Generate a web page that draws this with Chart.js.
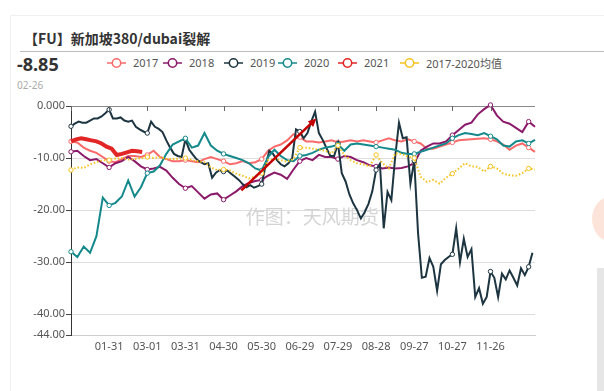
<!DOCTYPE html>
<html>
<head>
<meta charset="utf-8">
<script src="https://cdn.jsdelivr.net/npm/chart.js@4"></script>
<style>
  html, body { margin: 0; padding: 0; background: #fff; }
  body { width: 604px; height: 391px; position: relative; overflow: hidden;
         font-family: "Noto Sans", "Noto Sans CJK SC", sans-serif; }
  #card { position: absolute; left: 10px; top: 15px; right: 0; bottom: 0;
          border-left: 1px solid #f0f0f0; border-top: 1px solid #f0f0f0; }
  #title { position: absolute; left: 24px; top: 28px; font-size: 14px; font-weight: bold; color: #333;
           font-family: "Noto Sans CJK SC", sans-serif; }
  #rule { position: absolute; left: 20px; right: 0; top: 51px; height: 1px; background: #bdbdbd; }
  #last { position: absolute; left: 17px; top: 52px; font-size: 18px; font-weight: bold; color: #333; }
  #lastDate { position: absolute; left: 17px; top: 78px; font-size: 10px; color: #aaa; }
  #legend { position: absolute; left: 0; top: 55px; font-size: 11px; color: #555;
            font-family: "Noto Sans", "Noto Sans CJK SC", sans-serif; }
  #legend .item { position: absolute; top: 0; display: flex; align-items: center; white-space: nowrap; }
  #legend svg { margin-right: 7px; }
  #chart { position: absolute; left: 0; top: 0; }
  #sideBlob { position: absolute; left: 592px; top: 196px; width: 40px; height: 46px; border-radius: 50%; background: #fde4da; }
  #sideGray { position: absolute; left: 597px; top: 268px; width: 7px; height: 123px; background: #e6e6e6; }
</style>
</head>
<body>
<div id="card"></div>
<div id="sideBlob"></div>
<div id="sideGray"></div>
<div id="title">【FU】新加坡380/dubai裂解</div>
<div id="rule"></div>
<div id="last">-8.85</div>
<div id="lastDate">02-26</div>
<div id="legend"></div>
<canvas id="chart" width="604" height="391"></canvas>
<script>
// x axis: day index in a leap-year calendar (0 = 01-01)
const tickDays = [30, 60, 90, 120, 150, 180, 210, 240, 270, 300, 330];
const tickLabels = ['01-31', '03-01', '03-31', '04-30', '05-30', '06-29', '07-29', '08-28', '09-27', '10-27', '11-26'];
const yTicks = [0, -10, -20, -30, -40, -44];

const seriesNames = ['2017', '2018', '2019', '2020', '2021', '2017-2020均值'];
const seriesColors = ['#f96b6b', '#8c1a6a', '#1d3541', '#14898b', '#e22626', '#f5c21e'];

// one value every 5 days
const v2017 = [-6.8, -7.0, -8.0, -8.6, -9.0, -9.8, -10.6, -10.8, -10.2, -9.6,
  -9.6, -9.8, -9.4, -8.6, -9.8, -10.2, -10.6, -10.6, -10.4, -10.6,
  -10.8, -10.2, -9.8, -10.2, -10.6, -11.2, -11.0, -10.6, -11.0, -10.8,
  -10.2, -8.6, -7.8, -7.4, -6.6, -5.4, -6.0, -6.8, -6.8, -7.0,
  -6.8, -6.6, -7.0, -6.8, -6.6, -6.8, -6.6, -6.8, -7.0, -6.6,
  -6.2, -6.6, -6.8, -6.4, -6.8, -7.2, -8.2, -8.2, -7.8, -7.4,
  -7.0, -6.6, -6.5, -6.4, -6.3, -6.2, -6.4, -6.8, -7.4, -8.4,
  -7.6, -7.2, -8.0, -8.8];
const v2018 = [-8.8, -8.6, -9.6, -10.4, -10.2, -11.0, -11.8, -11.0, -10.6, -9.8,
  -10.6, -11.6, -12.2, -12.0, -11.7, -12.4, -13.8, -15.0, -15.8, -15.4,
  -16.6, -17.8, -17.0, -16.8, -18.0, -17.2, -16.4, -15.4, -14.8, -14.4,
  -14.2, -13.4, -12.8, -13.2, -14.0, -12.2, -10.6, -10.0, -10.4, -9.4,
  -9.8, -9.8, -10.2, -9.6, -9.8, -10.4, -10.8, -11.4, -11.6, -12.0,
  -11.8, -12.0, -11.9, -11.6, -11.0, -8.6, -7.8, -7.2, -7.2, -6.8,
  -5.6, -4.6, -3.6, -3.2, -1.6, -0.6, 0.2, -1.8, -3.0, -3.4,
  -4.2, -5.0, -3.0, -4.0];
const v2020 = [-28.0, -29.0, -27.0, -28.2, -25.0, -17.6, -19.1, -18.6, -17.4, -14.3,
  -17.4, -15.6, -12.9, -12.6, -11.4, -9.2, -7.4, -6.8, -6.2, -8.0,
  -7.6, -5.2, -7.6, -8.6, -9.2, -9.6, -10.0, -10.4, -11.0, -12.0,
  -12.4, -9.8, -8.4, -9.6, -10.4, -10.6, -9.6, -9.4, -9.0, -8.4,
  -8.0, -7.8, -7.4, -8.6, -7.4, -7.2, -7.4, -7.6, -7.8, -8.0,
  -8.2, -8.4, -9.0, -9.2, -9.2, -8.8, -8.4, -8.0, -7.6, -7.2,
  -6.2, -5.6, -5.2, -5.4, -5.6, -5.2, -5.8, -6.4, -7.6, -7.8,
  -6.8, -6.6, -7.2, -6.5];
const vAvg = [-12.3, -11.8, -11.9, -11.2, -10.8, -10.4, -10.4, -10.1, -10.0, -10.3,
  -10.2, -10.0, -9.8, -10.0, -9.8, -10.2, -10.2, -10.1, -10.0, -10.4,
  -10.6, -10.8, -11.8, -12.3, -12.2, -12.4, -13.0, -13.4, -13.9, -13.6,
  -12.9, -10.4, -10.2, -10.4, -10.7, -10.2, -8.0, -8.0, -8.2, -8.4,
  -8.6, -9.1, -7.6, -9.4, -10.4, -11.0, -11.2, -11.6, -9.4, -11.0,
  -12.0, -9.1, -9.2, -9.7, -10.0, -13.6, -14.6, -14.2, -14.9, -13.8,
  -13.0, -12.0, -11.0, -11.6, -11.7, -12.6, -11.6, -12.0, -13.0, -13.3,
  -13.4, -12.9, -12.0, -12.2];
// one value every 3 days
const v2019 = [-3.9, -3.4, -3.0, -3.2, -3.2, -2.8, -2.4, -2.4, -2.0, -1.4,
  -0.7, -2.4, -2.4, -2.2, -2.8, -3.0, -2.8, -4.0, -4.5, -4.9,
  -5.2, -3.0, -4.0, -4.4, -5.0, -6.6, -8.0, -9.2, -9.6, -9.8,
  -6.4, -8.4, -9.4, -10.3, -10.8, -11.2, -11.0, -13.8, -12.8, -12.3,
  -12.6, -12.4, -13.0, -13.6, -14.2, -15.0, -15.6, -15.2, -15.7, -15.4,
  -15.0, -11.5, -8.6, -9.2, -10.4, -11.2, -11.6, -11.0, -10.0, -4.5,
  -4.9, -6.2, -5.2, -3.0, -1.1, -5.2, -6.5, -8.1, -9.6, -9.6,
  -7.2, -12.9, -14.5, -17.0, -18.7, -20.0, -21.6, -20.4, -18.8, -16.4,
  -12.3, -11.1, -23.5, -16.5, -18.1, -9.8, -3.2, -6.2, -6.0, -14.9,
  -10.5, -24.4, -33.0, -32.8, -29.2, -30.9, -35.5, -30.4, -29.6, -29.0,
  -28.5, -23.5, -30.0, -25.5, -29.0, -27.5, -36.7, -35.0, -38.0, -36.7,
  -31.8, -33.0, -36.7, -32.2, -33.3, -31.6, -33.0, -34.5, -31.2, -32.5,
  -30.9, -28.2];
// one value every 4 days, up to 02-26
const v2021 = [-6.8, -6.4, -6.2, -6.4, -6.6, -6.8, -7.2, -7.8, -8.2, -9.4, -9.2, -8.9, -8.6, -8.7, -8.85];

const seriesValues = [v2017, v2018, v2019, v2020, v2021, vAvg];
const seriesSteps = [5, 5, 3, 5, 4, 5];

// red arrow drawn on the picture, in [day, value]
const arrowFrom = [134, -16.2];
const arrowTo = [193, -2.4];
const watermark = '作图：天风期货';

// legend, html
const legendLeft = [107, 163, 224, 278, 338, 400];
const legendEl = document.getElementById('legend');
seriesNames.forEach((name, i) => {
  const c = seriesColors[i];
  const item = document.createElement('div');
  item.className = 'item';
  item.style.left = legendLeft[i] + 'px';
  item.innerHTML = '<svg width="19" height="12"><line x1="0" y1="6" x2="19" y2="6" stroke="' + c +
    '" stroke-width="1.5"/><circle cx="9.5" cy="6" r="4.2" fill="#fff" stroke="' + c +
    '" stroke-width="1.5"/></svg><span>' + name + '</span>';
  legendEl.appendChild(item);
});

const toPoints = (vals, step) => vals.map((v, i) => ({ x: i * step, y: v }));

const datasets = seriesNames.map((name, i) => ({
  label: name,
  data: toPoints(seriesValues[i], seriesSteps[i]),
  borderColor: seriesColors[i],
  borderWidth: i === 4 ? 4 : 2,
  borderDash: i === 5 ? [1.5, 2] : [],
  pointRadius: ctx => (ctx.raw && ctx.raw.x % 30 === 0 && i !== 4 ? 2.2 : 0),
  pointBackgroundColor: '#fff',
  pointBorderColor: seriesColors[i],
  pointBorderWidth: 1,
  tension: 0,
  fill: false,
  clip: false,
  order: seriesNames.length - i
}));

const decor = {
  id: 'decor',
  beforeDatasetsDraw(chart) {
    const { ctx, chartArea } = chart;
    ctx.save();
    ctx.font = '19px "Noto Sans CJK SC", sans-serif';
    ctx.fillStyle = '#d4d4d4';
    ctx.textAlign = 'center';
    ctx.textBaseline = 'middle';
    ctx.fillText(watermark, chartArea.left + chartArea.width * 0.52, chartArea.top + chartArea.height * 0.485);
    ctx.restore();
  },
  afterDatasetsDraw(chart) {
    const { ctx, scales: { x, y } } = chart;
    const x0 = x.getPixelForValue(arrowFrom[0]), y0 = y.getPixelForValue(arrowFrom[1]);
    const x1 = x.getPixelForValue(arrowTo[0]), y1 = y.getPixelForValue(arrowTo[1]);
    const a = Math.atan2(y1 - y0, x1 - x0);
    const head = 9;
    ctx.save();
    ctx.strokeStyle = '#c40000';
    ctx.fillStyle = '#c40000';
    ctx.lineWidth = 2.5;
    ctx.beginPath();
    ctx.moveTo(x0, y0);
    ctx.lineTo(x1 - Math.cos(a) * head * 0.8, y1 - Math.sin(a) * head * 0.8);
    ctx.stroke();
    ctx.beginPath();
    ctx.moveTo(x1, y1);
    ctx.lineTo(x1 - head * Math.cos(a - 0.45), y1 - head * Math.sin(a - 0.45));
    ctx.lineTo(x1 - head * Math.cos(a + 0.45), y1 - head * Math.sin(a + 0.45));
    ctx.closePath();
    ctx.fill();
    ctx.restore();
  },
  afterDraw(chart) {
    // small tick marks hanging from the top axis line
    const { ctx, chartArea, scales: { x } } = chart;
    ctx.save();
    ctx.strokeStyle = '#666';
    ctx.lineWidth = 1;
    [0].concat(tickDays).forEach(d => {
      const px = Math.round(x.getPixelForValue(d)) + 0.5;
      ctx.beginPath();
      ctx.moveTo(px, chartArea.top);
      ctx.lineTo(px, chartArea.top + 5);
      ctx.stroke();
    });
    ctx.restore();
  }
};

new Chart(document.getElementById('chart'), {
  type: 'line',
  data: { datasets: datasets },
  plugins: [decor],
  options: {
    responsive: false,
    animation: false,
    devicePixelRatio: 1,
    layout: { padding: { left: 0, right: 69, top: 106, bottom: 16 } },
    plugins: { legend: { display: false }, tooltip: { enabled: false } },
    scales: {
      x: {
        type: 'linear',
        min: 0,
        max: 365,
        afterBuildTicks: scale => { scale.ticks = tickDays.map(v => ({ value: v })); },
        afterFit: scale => { scale.height = 40; },
        grid: { display: false },
        border: { display: true, color: '#cfcfcf' },
        ticks: {
          autoSkip: false,
          maxRotation: 0,
          padding: -3,
          color: '#555',
          font: { size: 11, family: '"Noto Sans", sans-serif' },
          callback: v => tickLabels[tickDays.indexOf(v)]
        }
      },
      y: {
        min: -44,
        max: 0,
        afterBuildTicks: scale => { scale.ticks = yTicks.map(v => ({ value: v })); },
        afterFit: scale => { scale.width = 71; },
        grid: {
          color: ctx => (ctx.tick && ctx.tick.value === 0 ? '#8a8a8a' : (ctx.tick && ctx.tick.value === -44 ? '#cfcfcf' : '#dedede')),
          tickColor: '#444',
          tickLength: 5
        },
        border: { color: '#333' },
        ticks: {
          padding: 1,
          color: '#555',
          font: { size: 11, family: '"Noto Sans", sans-serif' },
          callback: v => (v === 0 ? '0.000' : v.toFixed(2))
        }
      }
    }
  }
});
</script>
</body>
</html>
